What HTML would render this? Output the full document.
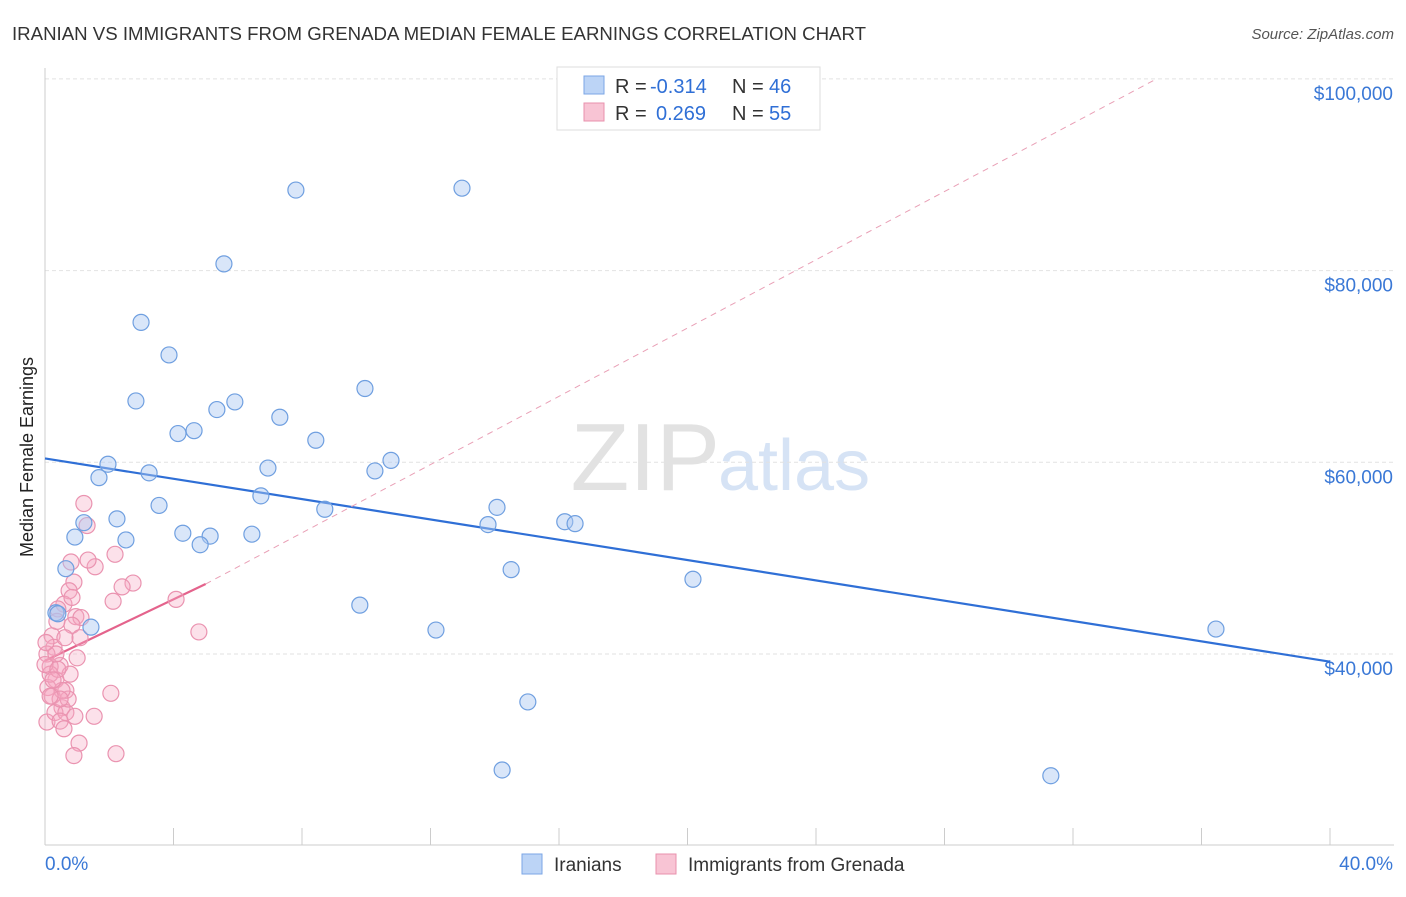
<!DOCTYPE html>
<html><head><meta charset="utf-8"><style>
body{margin:0;background:#fff;font-family:"Liberation Sans",sans-serif;}
svg text{font-family:"Liberation Sans",sans-serif;}
</style></head><body>
<svg id="chart" width="1406" height="892" xmlns="http://www.w3.org/2000/svg">
<text x="12" y="40" font-size="18" fill="#333" textLength="854" lengthAdjust="spacingAndGlyphs">IRANIAN VS IMMIGRANTS FROM GRENADA MEDIAN FEMALE EARNINGS CORRELATION CHART</text>
<text x="1394" y="39" font-size="15" fill="#555" font-style="italic" text-anchor="end">Source: ZipAtlas.com</text>
<text x="33" y="457" font-size="18" fill="#222" transform="rotate(-90 33 457)" text-anchor="middle">Median Female Earnings</text>
<text x="720" y="490" font-size="96" fill="#e2e2e2" text-anchor="end" font-family="Liberation Serif">ZIP</text>
<text x="718" y="490" font-size="72" fill="#d6e3f5">atlas</text>
<g id="grid"></g><g id="axes"></g><g id="lines"></g><g id="pts"></g>
<g>
<rect x="557" y="67" width="263" height="63" fill="#fff" stroke="#ddd"/>
<rect x="584" y="76" width="20" height="18" fill="#bcd4f6" stroke="#7ba6e6"/>
<text x="615" y="93" font-size="20" fill="#333">R =</text>
<text x="650" y="93" font-size="20" fill="#2f6fd6">-0.314</text>
<text x="732" y="93" font-size="20" fill="#333">N =</text>
<text x="769" y="93" font-size="20" fill="#2f6fd6">46</text>
<rect x="584" y="103" width="20" height="18" fill="#f8c4d4" stroke="#e891ad"/>
<text x="615" y="120" font-size="20" fill="#333">R =</text>
<text x="656" y="120" font-size="20" fill="#2f6fd6">0.269</text>
<text x="732" y="120" font-size="20" fill="#333">N =</text>
<text x="769" y="120" font-size="20" fill="#2f6fd6">55</text>
</g>
<g>
<rect x="522" y="854" width="20" height="20" fill="#bcd4f6" stroke="#7ba6e6"/>
<text x="554" y="871" font-size="19" fill="#333">Iranians</text>
<rect x="656" y="854" width="20" height="20" fill="#f8c4d4" stroke="#e891ad"/>
<text x="688" y="871" font-size="19" fill="#333">Immigrants from Grenada</text>
</g>
</svg>
<script>
const yTicks=[40000,60000,80000,100000];
const yTickLabels=["$40,000","$60,000","$80,000","$100,000"];
const xTicks=[0,4,8,12,16,20,24,28,32,36,40];
const blueX=[7.81,12.98,5.57,2.99,3.86,2.83,5.35,5.91,9.96,7.31,4.14,4.64,8.43,1.96,3.24,1.68,6.94,10.27,10.77,6.72,3.55,8.71,14.07,13.79,16.18,16.50,2.24,1.21,0.93,2.52,4.29,5.14,6.44,4.83,0.65,14.51,20.17,0.34,1.43,9.80,12.17,36.45,15.03,14.23,31.31,0.40];
const blueY=[88400,88600,80700,74600,71200,66400,65500,66300,67700,64700,63000,63300,62300,59800,58900,58400,59400,59100,60200,56500,55500,55100,55300,53500,53800,53600,54100,53700,52200,51900,52600,52300,52500,51400,48900,48800,47800,44300,42800,45100,42500,42600,35000,27900,27300,44200];
const pinkX=[1.21,1.31,2.18,0.81,1.56,0.90,2.74,0.75,2.40,4.08,2.12,0.59,0.40,0.96,1.12,0.06,0.84,4.79,0.22,1.09,0.28,0.06,1.00,0.47,0.16,0.78,0.34,0.65,0.09,2.05,0.22,0.53,0.31,0.65,1.53,0.93,0.47,0.59,1.06,0.90,2.21,0.16,0.34,0.00,0.40,0.72,0.53,0.25,0.03,0.47,1.34,0.84,0.62,0.16,0.37];
const pinkY=[55700,53400,50400,49600,49100,47500,47400,46600,47000,45700,45500,45200,44700,43900,43800,32900,43000,42300,41900,41700,40700,40000,39600,38800,38700,37900,37300,36200,36500,35900,35600,34400,33900,33900,33500,33500,33000,32200,30700,29400,29600,37900,40000,38900,38400,35300,36200,37300,41200,35300,49800,45900,41700,35600,43400];
const X0=45,X1=1330,Y40=654,PX=191.7/20000;
const xs=v=>X0+(v/40)*(X1-X0);
const ys=v=>Y40-(v-40000)*PX;
const NS="http://www.w3.org/2000/svg";
function mk(tag,attrs,parent){const e=document.createElementNS(NS,tag);for(const k in attrs)e.setAttribute(k,attrs[k]);document.getElementById(parent).appendChild(e);return e;}
yTicks.forEach((t,i)=>{
 const g=mk('line',{x1:45,x2:1394,y1:ys(t),y2:ys(t),stroke:'#e2e2e2','stroke-dasharray':'4 3'},'grid');
 
 
 const tx=mk('text',{x:1393,y:ys(t)+21,'font-size':19,fill:'#3a78d6','text-anchor':'end'},'axes');
 tx.textContent=yTickLabels[i];
 
 
});
mk('line',{x1:45,x2:45,y1:68,y2:845,stroke:'#ccc'},'axes');
mk('line',{x1:45,x2:1394,y1:845,y2:845,stroke:'#ccc'},'axes');
xTicks.forEach(t=>{const l=mk('line',{x1:xs(t),x2:xs(t),y1:828,y2:845,stroke:'#ccc'},'axes');
 
 });
let a=mk('text',{x:45,y:870,'font-size':19,fill:'#3a78d6'},'axes');a.textContent='0.0%';


a=mk('text',{x:1393,y:870,'font-size':19,fill:'#3a78d6','text-anchor':'end'},'axes');a.textContent='40.0%';


let l=mk('line',{x1:xs(0),y1:ys(60400),x2:xs(40),y2:ys(39200),stroke:'#2f6fd6','stroke-width':2.2},'lines');


l=mk('line',{x1:xs(5),y1:ys(47300),x2:xs(34.6),y2:ys(100000),stroke:'#e9a0b6','stroke-width':1,'stroke-dasharray':'6 5'},'lines');


l=mk('line',{x1:xs(0),y1:ys(39300),x2:xs(5),y2:ys(47300),stroke:'#e4638c','stroke-width':2.2},'lines');


pinkX.forEach((x,i)=>{const c=mk('circle',{cx:xs(x),cy:ys(pinkY[i]),r:8,fill:'rgba(246,170,195,0.35)',stroke:'#ea93b0','stroke-width':1.2},'pts');
 
 });
blueX.forEach((x,i)=>{const c=mk('circle',{cx:xs(x),cy:ys(blueY[i]),r:8,fill:'rgba(170,200,242,0.45)',stroke:'#6f9fe0','stroke-width':1.2},'pts');
 
 });
</script>
</body></html>
